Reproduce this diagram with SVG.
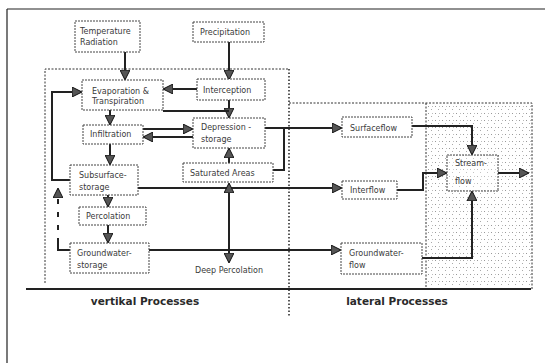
<svg xmlns="http://www.w3.org/2000/svg" width="545" height="363" viewBox="0 0 545 363">
  <defs>
    <pattern id="stipple" width="7" height="7" patternUnits="userSpaceOnUse">
      <rect x="1" y="1" width="1" height="1" fill="#999"/>
      <rect x="4" y="4" width="1" height="1" fill="#aaa"/>
      <rect x="5" y="1" width="1" height="1" fill="#bbb"/>
    </pattern>
    <marker id="arr" viewBox="0 0 10 10" refX="9" refY="5" markerWidth="5" markerHeight="5" orient="auto" markerUnits="strokeWidth">
      <path d="M0,0 L10,5 L0,10 Z" fill="#555" stroke="#111" stroke-width="1"/>
    </marker>
  </defs>
  <style>
    .box { fill: #fff; stroke: #444; stroke-width: 1; stroke-dasharray: 2 1; }
    .t { font-family: "DejaVu Sans", "Liberation Sans", sans-serif; font-size: 8px; fill: #3a3a3a; }
    .lbl { font-family: "DejaVu Sans", "Liberation Sans", sans-serif; font-size: 10.5px; font-weight: bold; fill: #2a2a2a; text-anchor: middle; }
    .c { fill: none; stroke: #222; stroke-width: 2; }
    .frame { fill: none; stroke: #222; stroke-width: 1.2; }
    .dash { fill: none; stroke: #333; stroke-width: 1; stroke-dasharray: 2 1.5; }
  </style>

  <!-- page frame -->
  <path class="frame" d="M7,9 H545 M7,9 V363"/>

  <!-- process regions -->
  <rect x="426" y="103" width="106" height="186" fill="url(#stipple)"/>
  <path class="dash" d="M45,283 V69 H289"/>
  <path class="dash" d="M289,103 H532 V289"/>
  <path class="dash" d="M426,103 V289"/>
  <path d="M289,69 V316" fill="none" stroke="#222" stroke-width="1.5" stroke-dasharray="1.5 2"/>
  <path d="M26,289 H531" fill="none" stroke="#222" stroke-width="2"/>
  <text class="lbl" x="145" y="305">vertikal Processes</text>
  <text class="lbl" x="397" y="305">lateral Processes</text>

  <!-- connectors -->
  <g id="connectors">
    <path class="c" d="M125,52 V79" marker-end="url(#arr)"/>
    <path class="c" d="M229,42 V79" marker-end="url(#arr)"/>
    <path class="c" d="M197,89 H164" marker-end="url(#arr)"/>
    <path class="c" d="M229,100 V117" marker-end="url(#arr)"/>
    <path class="c" d="M163,111 H229"/>
    <path class="c" d="M110,110 V124" marker-end="url(#arr)"/>
    <path class="c" d="M143,129 H192" marker-end="url(#arr)"/>
    <path class="c" d="M193,137 H144" marker-end="url(#arr)"/>
    <path class="c" d="M110,144 V164" marker-end="url(#arr)"/>
    <path class="c" d="M70,180 H52 V92 H81" marker-end="url(#arr)"/>
    <path class="c" d="M70,250 H58 V243"/>
    <path d="M58,243 V189" fill="none" stroke="#222" stroke-width="2" stroke-dasharray="5 8" marker-end="url(#arr)"/>
    <path class="c" d="M108,195 V206" marker-end="url(#arr)"/>
    <path class="c" d="M108,224 V242" marker-end="url(#arr)"/>
    <path class="c" d="M138,188 H341" marker-end="url(#arr)"/>
    <path class="c" d="M149,250 H340" marker-end="url(#arr)"/>
    <path class="c" d="M229,250 V184" marker-end="url(#arr)"/>
    <path class="c" d="M229,250 V262" marker-end="url(#arr)"/>
    <path class="c" d="M229,163 V149" marker-end="url(#arr)"/>
    <path class="c" d="M273,170 H284 V128"/>
    <path class="c" d="M265,128 H341" marker-end="url(#arr)"/>
    <path class="c" d="M412,126 H472 V154" marker-end="url(#arr)"/>
    <path class="c" d="M397,190 H423 V173 H446" marker-end="url(#arr)"/>
    <path class="c" d="M422,258 H472 V192" marker-end="url(#arr)"/>
    <path class="c" d="M498,173 H528" marker-end="url(#arr)"/>
  </g>

  <!-- nodes -->
  <g id="temperature">
    <rect class="box" x="75" y="21" width="65" height="31"/>
    <text class="t" x="80" y="34">Temperature</text>
    <text class="t" x="80" y="45">Radiation</text>
  </g>
  <g id="precipitation">
    <rect class="box" x="193" y="22" width="71" height="20"/>
    <text class="t" x="200" y="35">Precipitation</text>
  </g>
  <g id="evaporation">
    <rect class="box" x="82" y="80" width="81" height="30"/>
    <text class="t" x="92" y="94">Evaporation &amp;</text>
    <text class="t" x="92" y="104">Transpiration</text>
  </g>
  <g id="interception">
    <rect class="box" x="197" y="79" width="68" height="21"/>
    <text class="t" x="203" y="93">Interception</text>
  </g>
  <g id="infiltration">
    <rect class="box" x="83" y="125" width="60" height="19"/>
    <text class="t" x="90" y="137">Infiltration</text>
  </g>
  <g id="depression">
    <rect class="box" x="193" y="118" width="72" height="30"/>
    <text class="t" x="201" y="130">Depression -</text>
    <text class="t" x="201" y="142">storage</text>
  </g>
  <g id="saturated">
    <rect class="box" x="183" y="163" width="90" height="19"/>
    <text class="t" x="190" y="176">Saturated Areas</text>
  </g>
  <g id="subsurface">
    <rect class="box" x="70" y="165" width="68" height="30"/>
    <text class="t" x="79" y="178">Subsurface-</text>
    <text class="t" x="79" y="190">storage</text>
  </g>
  <g id="percolation">
    <rect class="box" x="79" y="207" width="67" height="18"/>
    <text class="t" x="86" y="219">Percolation</text>
  </g>
  <g id="groundwater-storage">
    <rect class="box" x="70" y="243" width="79" height="30"/>
    <text class="t" x="77" y="256">Groundwater-</text>
    <text class="t" x="77" y="268">storage</text>
  </g>
  <g id="deep-percolation">
    <text class="t" x="229" y="273" text-anchor="middle" font-size="7.5">Deep Percolation</text>
  </g>
  <g id="surfaceflow">
    <rect class="box" x="342" y="117" width="70" height="20"/>
    <text class="t" x="350" y="131">Surfaceflow</text>
  </g>
  <g id="interflow">
    <rect class="box" x="342" y="181" width="55" height="18"/>
    <text class="t" x="350" y="193">Interflow</text>
  </g>
  <g id="groundwater-flow">
    <rect class="box" x="341" y="243" width="81" height="31"/>
    <text class="t" x="349" y="256">Groundwater-</text>
    <text class="t" x="349" y="268">flow</text>
  </g>
  <g id="streamflow">
    <rect class="box" x="447" y="155" width="51" height="36" fill-opacity="0.3"/>
    <text class="t" x="455" y="166">Stream-</text>
    <text class="t" x="455" y="184">flow</text>
  </g>
</svg>
